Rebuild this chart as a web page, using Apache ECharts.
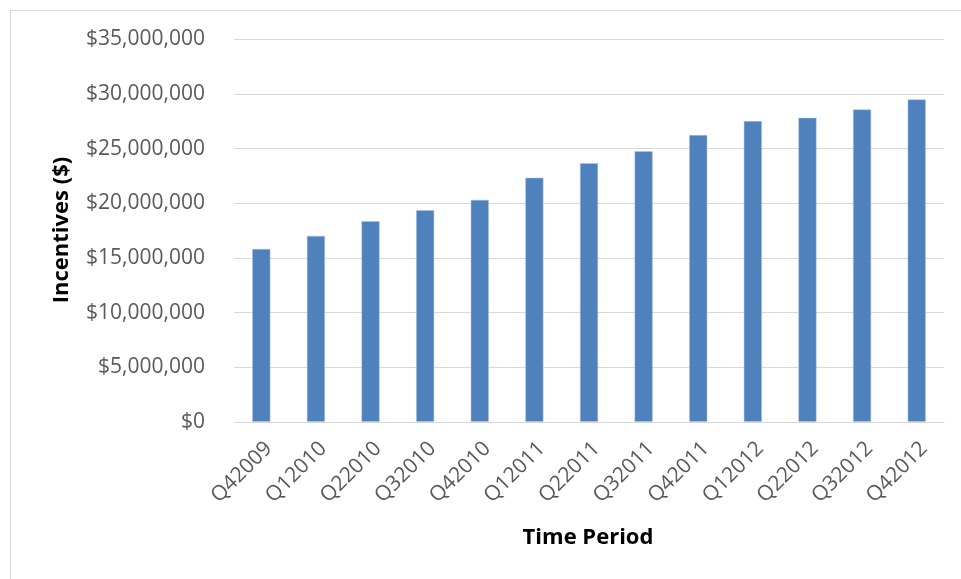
<!DOCTYPE html>
<html>
<head>
<meta charset="utf-8">
<script src="https://cdn.jsdelivr.net/npm/echarts@6/dist/echarts.min.js"></script>
<style>
html,body{margin:0;padding:0;background:#fff;}
#chart{width:961px;height:579px;}
</style>
</head>
<body>
<div id="chart"></div>
<script>
const categories = ["Q42009","Q12010","Q22010","Q32010","Q42010","Q12011","Q22011","Q32011","Q42011","Q12012","Q22012","Q32012","Q42012"];
const incentives = [15820000,17010000,18360000,19370000,20310000,22330000,23670000,24770000,26240000,27520000,27820000,28580000,29500000];
const yTicks = {min:0, max:35000000, interval:5000000};

const chart = echarts.init(document.getElementById('chart'), null, {renderer:'canvas'});
const font = '"Open Sans", sans-serif';
chart.setOption({
  animation:false,
  backgroundColor:'#ffffff',
  grid:{left:234, right:17, top:39.4, bottom:157.2, containLabel:false},
  graphic:[
    {type:'rect', shape:{x:10.5,y:10.5,width:1000,height:1000}, style:{fill:'none', stroke:'#d9d9d9', lineWidth:1}, silent:true},
    {type:'text', x:62, y:230, rotation:Math.PI/2, style:{text:'Incentives ($)', font:'bold 22px "Open Sans", sans-serif', fill:'#000', align:'center', verticalAlign:'middle'}},
    {type:'text', x:588, y:538, style:{text:'Time Period', font:'bold 22px "Open Sans", sans-serif', fill:'#000', align:'center', verticalAlign:'middle'}}
  ],
  xAxis:{
    type:'category', data:categories,
    axisLine:{show:true, lineStyle:{color:'#d9d9d9', width:1}},
    axisTick:{show:false},
    axisLabel:{rotate:45, color:'#595959', fontSize:21, fontFamily:font, margin:16, interval:0, verticalAlign:'top'}
  },
  yAxis:{
    type:'value', min:yTicks.min, max:yTicks.max, interval:yTicks.interval,
    axisLine:{show:false}, axisTick:{show:false},
    splitLine:{lineStyle:{color:'#d9d9d9', width:1}},
    axisLabel:{color:'#595959', fontSize:21, fontFamily:font, margin:29,
      formatter:v => '$' + v.toLocaleString('en-US')}
  },
  series:[{
    type:'bar', data:incentives, barWidth:18,
    itemStyle:{color:'#4f81bd', borderColor:'#a9c1e0', borderWidth:0.5}
  }]
});
</script>
</body>
</html>
